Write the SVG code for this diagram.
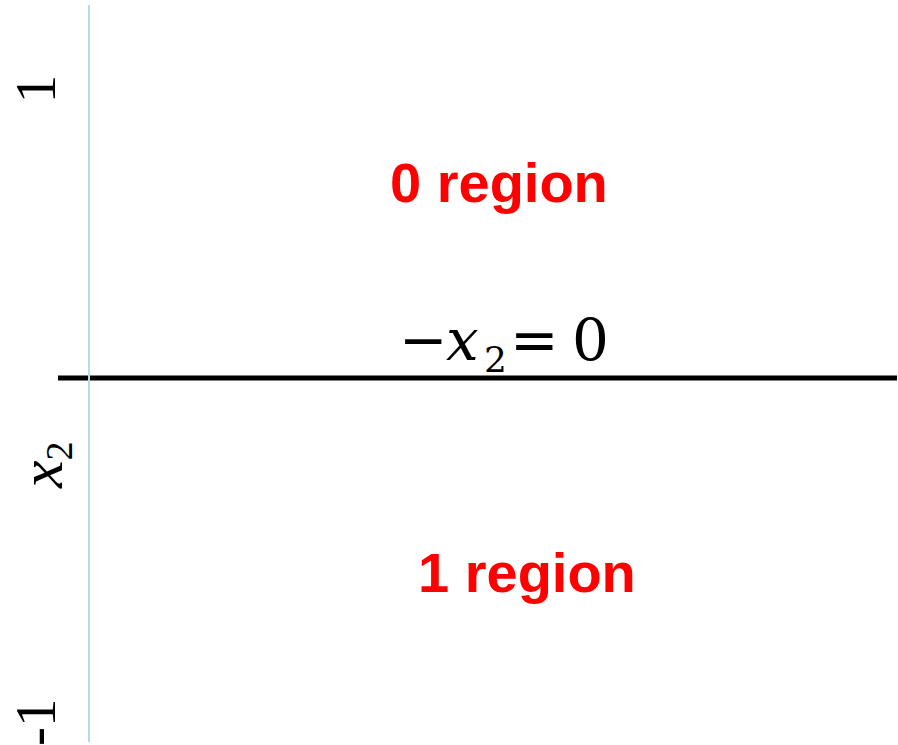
<svg xmlns="http://www.w3.org/2000/svg" width="898" height="745" viewBox="0 0 898 745">
<style>
.region{font-family:"Liberation Sans",Arial,sans-serif;font-weight:bold;font-size:56px;fill:#ff0000}
.math{font-family:"Liberation Serif","DejaVu Serif",serif;fill:#000}
.eq{font-family:"DejaVu Serif",serif;fill:#000}
.op{font-family:"DejaVu Sans",sans-serif}
.it{font-style:italic}
</style>
<rect width="898" height="745" fill="#ffffff"/>
<g id="connectors">
<line id="boundary" x1="58" y1="378" x2="897" y2="378" stroke="#000" stroke-width="5"/>
<line id="axis" x1="89" y1="5" x2="89" y2="742" stroke="#b4dde0" stroke-width="2"/>
</g>
<g id="tick-top"><text class="math" font-size="57" transform="translate(55,89) rotate(-90)" text-anchor="middle">1</text></g>
<g id="axis-label"><text class="math" transform="translate(62,488) rotate(-90)"><tspan class="it" font-size="62">x</tspan><tspan font-size="38" dy="10">2</tspan></text></g>
<g id="tick-bottom"><text class="math" font-size="57" transform="translate(55,746) rotate(-90)">-1</text></g>
<g id="zero-region"><text class="region" x="390" y="202">0 region</text></g>
<g id="one-region"><text class="region" x="418" y="592">1 region</text></g>
<g id="equation"><text class="eq" font-size="58" y="360"><tspan class="op" x="399">−</tspan><tspan class="it" x="446">x</tspan><tspan font-size="36" x="484" y="372">2</tspan><tspan class="op" x="510" y="360">=</tspan><tspan x="572">0</tspan></text></g>
</svg>
